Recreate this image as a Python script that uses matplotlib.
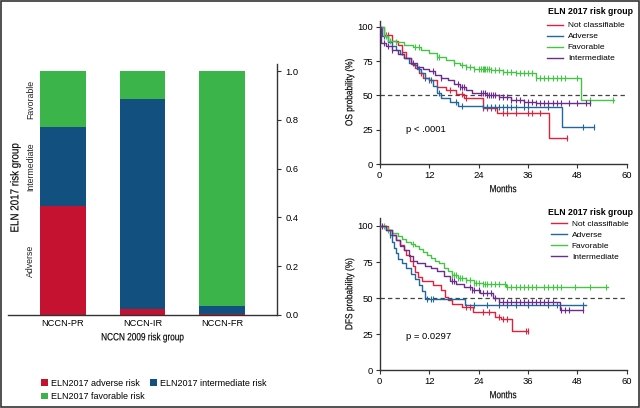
import numpy as np
import matplotlib
matplotlib.use("Agg")
import matplotlib.pyplot as plt
import matplotlib.transforms as mtransforms
import matplotlib.patheffects as pe
from matplotlib.patches import Rectangle

plt.rcParams["font.family"] = ["Liberation Sans", "DejaVu Sans"]

# ---- stacked bar data (fractions) ----
nccn_groups = ["NCCN-PR", "NCCN-IR", "NCCN-FR"]
eln_adverse = [0.445, 0.025, 0.005]
eln_intermediate = [0.325, 0.859, 0.030]
eln_favorable = [0.230, 0.116, 0.965]
bar_labels = ["ELN2017 adverse risk", "ELN2017 intermediate risk",
              "ELN2017 favorable risk"]
bar_colors = ["#c41230", "#12507f", "#3bb54a"]

# ---- Kaplan-Meier data (months, percent) ----
km_labels = ["Not classifiable", "Adverse", "Favorable", "Intermediate"]
km_colors = ["#e2203c", "#1f679e", "#45c545", "#6b2d8c"]

os_red_t = [0, 1, 3, 4.5, 5.5, 6.5, 7.5, 8.5, 9.5, 10.5, 12, 14, 16, 18.5, 20.5, 25, 28.4, 41.2, 45.5]
os_red_s = [100, 94, 90, 87, 82, 77, 73, 70, 66, 63, 61, 56, 54, 51, 48, 40.5, 37, 19, 19]
os_red_c = [1.5, 2, 5.5, 10, 12, 17, 20, 21, 25, 26, 27, 28, 30, 31, 33, 36, 37, 39, 45.4]

os_blue_t = [0, 0.5, 2, 3, 4, 5, 6, 7, 8, 9, 10, 11, 12, 13, 14, 15, 17, 19, 25, 44.2, 52]
os_blue_s = [100, 93, 89, 86, 83, 80, 77, 74, 72, 69, 66, 63, 61, 57, 52, 48, 45, 42.5, 41.5, 27, 27]
os_blue_c = [1, 9.5, 11, 12.5, 14.5, 18.5, 20, 25, 26, 27, 28, 29, 30, 31, 32, 33, 35, 36, 41, 49.5, 52]

os_green_t = [0, 1, 2, 4, 6, 8, 10, 12, 14, 16, 18, 19.5, 21, 23, 27, 30, 33, 38, 49, 57]
os_green_s = [100, 93, 90, 89, 87, 85, 83, 81, 78, 76, 74, 72, 71, 69.5, 68.5, 67, 66.5, 63, 47, 47]
os_green_c = [1.5, 2.5, 4, 8.5, 9.5, 14, 14.5, 18, 20, 21, 22, 23, 24, 24.5, 25, 25.3, 25.6, 26,
              26.5, 27, 28, 29, 30, 31, 32, 33, 34, 35, 36, 37, 38, 39, 40, 41, 42, 43, 44,
              45, 48, 51, 56.7]

os_purple_t = [0, 0.3, 1.5, 3, 4.5, 6, 7.5, 9, 10.5, 12, 13.5, 15, 16.5, 18, 19.5, 21, 22.5, 26, 29, 32, 35, 38, 51]
os_purple_s = [100, 88, 86, 83, 80, 77, 74, 71, 69, 68, 65, 63, 61, 58, 56, 54, 51.5, 50.5, 49, 47, 45.5, 44.5, 44.5]
os_purple_c = [1, 2, 3, 8, 13, 15, 19, 19.5, 20, 20.5, 24.5, 25, 25.5, 26, 26.5, 27, 27.5, 28,
               29, 30, 31, 32, 33, 34, 35, 36, 37, 38, 39, 40, 41, 42, 43, 44, 46, 48, 50, 51]

dfs_red_t = [0, 2, 3, 4, 5, 5.8, 6.5, 7.3, 8, 8.6, 9.2, 10.3, 13, 15, 15.9, 16.7, 17.5, 19.9, 22.7, 28, 29.5, 32.1, 36.1]
dfs_red_s = [100, 97, 94, 90, 87, 83, 80, 76, 72, 68, 64.5, 61.5, 59, 55.5, 51, 48.5, 46, 44, 40.5, 37, 35.5, 26.8, 26.8]
dfs_red_c = [21, 22, 25, 26.5, 29, 30, 31, 35.5, 36]

dfs_blue_t = [0, 1.5, 2.5, 3, 3.5, 4, 4.5, 5.5, 6.5, 7.5, 8.5, 9.5, 10.3, 11, 20.7, 50]
dfs_blue_s = [100, 97, 94, 89, 85, 81, 77, 74, 71, 67, 63, 59, 55, 49, 45.5, 45.5]
dfs_blue_c = [2.5, 11.5, 12.5, 13, 23, 26, 29, 31, 33, 36, 41, 43, 49.5]

dfs_green_t = [0, 1.5, 3, 4.5, 5.5, 6.5, 7.5, 8.5, 9.5, 10.5, 11.5, 12.5, 13.5, 14.5, 15.5, 16.5,
               17.5, 19, 21, 23, 25, 30.8, 55.5]
dfs_green_s = [100, 97, 95, 93, 91, 89, 87.5, 86, 84, 82, 80, 78, 76, 74, 71, 68.5,
               66, 64, 62.5, 60.5, 59.5, 57.5, 57.5]
dfs_green_c = [1, 2, 8, 17.5, 18, 18.5, 19, 19.5, 20, 21, 22, 23, 23.5, 24, 25, 25.5, 26, 27,
               28, 29, 30.5, 31, 32, 33, 34, 35, 36, 37, 38, 40, 41, 42, 43, 44, 47.5, 51, 55]

dfs_purple_t = [0, 1.5, 3, 4, 5, 6, 7, 8, 9, 11, 12.5, 14, 15.5, 17, 18.5, 20.5, 22.3, 24.4, 27.6, 29, 43.8, 49.5]
dfs_purple_s = [100, 97, 94, 90, 86, 83, 79, 76, 74, 72, 70.5, 68.5, 65, 62, 59.5, 58, 55.5, 53.5, 50, 47.5, 41.7, 41.7]
dfs_purple_c = [0.5, 17.5, 18, 22, 22.5, 23, 24, 25, 26, 27, 28, 29, 30, 31, 32, 33, 34, 35,
                36, 37, 38, 39, 40, 41, 42, 44, 45, 46, 49.5]

os_curves = [(os_red_t, os_red_s, os_red_c), (os_blue_t, os_blue_s, os_blue_c),
             (os_green_t, os_green_s, os_green_c), (os_purple_t, os_purple_s, os_purple_c)]
dfs_curves = [(dfs_red_t, dfs_red_s, dfs_red_c), (dfs_blue_t, dfs_blue_s, dfs_blue_c),
              (dfs_green_t, dfs_green_s, dfs_green_c), (dfs_purple_t, dfs_purple_s, dfs_purple_c)]

SPINE = "#333333"


class Condense(pe.AbstractPathEffect):
    """Squeeze text horizontally (no condensed font installed), slightly emboldened."""

    def __init__(self, sx=0.8, stroke=0.1):
        super().__init__()
        self.sx = sx
        self.stroke = stroke

    def draw_path(self, renderer, gc, tpath, affine, rgbFace=None):
        v = tpath.vertices
        cx = (v[:, 0].min() + v[:, 0].max()) / 2 if len(v) else 0
        t = mtransforms.Affine2D().translate(-cx, 0).scale(self.sx, 1).translate(cx, 0) + affine
        gc0 = renderer.new_gc()
        gc0.copy_properties(gc)
        gc0.set_linewidth(self.stroke)
        gc0.set_foreground(rgbFace)
        renderer.draw_path(gc0, tpath, t, rgbFace)
        gc0.restore()


def style_km(ax, ylabel, ytop):
    for side in ["top", "right"]:
        ax.spines[side].set_visible(False)
    for side in ["left", "bottom"]:
        ax.spines[side].set_color(SPINE)
        ax.spines[side].set_linewidth(1.0)
    ax.set_xlim(0, 60)
    ax.set_ylim(0, ytop)
    ax.set_xticks([0, 12, 24, 36, 48, 60])
    ax.set_yticks([0, 25, 50, 75, 100])
    ax.tick_params(labelsize=6.8, length=3, width=0.8, color=SPINE, pad=2)
    xl = ax.set_xlabel("Months", fontsize=7.4, labelpad=3)
    yl = ax.set_ylabel(ylabel, fontsize=7.2, labelpad=2)
    xl.set_path_effects([Condense(0.8)])
    yl.set_path_effects([Condense(0.83)])
    ax.axhline(50, color="#444444", lw=0.9, ls=(0, (3.5, 2.5)), zorder=1)


def draw_km(ax, curves):
    handles = []
    for (t, s, c), col, lab in zip(curves, km_colors, km_labels):
        t = np.asarray(t, float)
        s = np.asarray(s, float)
        (h,) = ax.step(t, s, where="post", color=col, lw=1.0, label=lab, zorder=3)
        c = np.asarray(c, float)
        idx = np.searchsorted(t, c, side="right") - 1
        ax.plot(c, s[idx], ls="none", marker="|", ms=5, mew=0.8, color=col, zorder=3)
        handles.append(h)
    return handles


fig = plt.figure(figsize=(6.4, 4.08), dpi=100)

# ---- stacked bar chart ----
axb = fig.add_axes([0.0125, 0.228, 0.4203, 0.615])
x = np.arange(len(nccn_groups))
bottom = np.zeros(len(nccn_groups))
bars = []
for vals, col, lab in zip([eln_adverse, eln_intermediate, eln_favorable], bar_colors, bar_labels):
    b = axb.bar(x, vals, width=0.57, bottom=bottom, color=col, label=lab, zorder=2)
    bars.append(b)
    bottom += np.asarray(vals)
axb.set_xlim(-0.69, 2.69)
axb.set_ylim(0, 1.029)
axb.spines["top"].set_visible(False)
axb.spines["left"].set_visible(False)
axb.spines["right"].set_color(SPINE)
axb.spines["bottom"].set_color(SPINE)
axb.spines["right"].set_linewidth(1.0)
axb.spines["bottom"].set_linewidth(1.0)
axb.yaxis.tick_right()
axb.set_yticks([0, 0.2, 0.4, 0.6, 0.8, 1.0])
axb.set_yticklabels(["0.0", "0.2", "0.4", "0.6", "0.8", "1.0"])
axb.set_xticks(x)
axb.set_xticklabels(nccn_groups)
axb.tick_params(axis="y", labelsize=6.7, length=3, width=0.8, color=SPINE, pad=3)
axb.tick_params(axis="x", labelsize=6.7, length=0, pad=3)
xlab = axb.set_xlabel("NCCN 2009 risk group", fontsize=7.5, labelpad=3)
xlab.set_path_effects([Condense(0.79)])

# segment names along first bar
trans = mtransforms.blended_transform_factory(axb.transAxes, axb.transData)
seg_names = ["Adverse", "Intermediate", "Favorable"]
lows = [0, eln_adverse[0], eln_adverse[0] + eln_intermediate[0]]
highs = [eln_adverse[0], eln_adverse[0] + eln_intermediate[0], 1.0]
for name, lo, hi in zip(seg_names, lows, highs):
    axb.text(0.085, (lo + hi) / 2, name, transform=trans, rotation=90,
             ha="center", va="center", fontsize=6.3, color="#222222")
eln = fig.text(0.024, 0.54, "ELN 2017 risk group", rotation=90, ha="center", va="center",
               fontsize=8.3)
eln.set_path_effects([Condense(0.85)])

# row order: adverse, intermediate / favorable
order = [0, 2, 1]
fig.legend(handles=[bars[i] for i in order], labels=[bar_labels[i] for i in order],
           loc="upper left", bbox_to_anchor=(0.064, 0.072), bbox_transform=fig.transFigure,
           ncol=2, frameon=False, fontsize=6.5, handlelength=0.8, handleheight=0.8,
           handletextpad=0.3, columnspacing=0.6, labelspacing=0.5, borderaxespad=0,
           borderpad=0)

# ---- OS ----
ax1 = fig.add_axes([0.5933, 0.598, 0.3859, 0.351])
style_km(ax1, "OS probability (%)", 104.4)
h1 = draw_km(ax1, os_curves)
ax1.text(6.5, 25, "p < .0001", fontsize=6.8, va="center", ha="left")

# ---- DFS ----
ax2 = fig.add_axes([0.5933, 0.093, 0.3859, 0.3725])
style_km(ax2, "DFS probability (%)", 105.5)
h2 = draw_km(ax2, dfs_curves)
ax2.text(6.5, 23, "p = 0.0297", fontsize=6.8, va="center", ha="left")

for handles, tx, ty, lx, ly in [(h1, 0.856, 0.9706, 0.8547, 0.947),
                                (h2, 0.857, 0.4787, 0.861, 0.4596)]:
    fig.text(tx, ty, "ELN 2017 risk group", fontsize=6.3, fontweight="bold",
             ha="left", va="center")
    fig.legend(handles=handles, labels=km_labels, loc="upper left",
               bbox_to_anchor=(lx, ly), bbox_transform=fig.transFigure,
               frameon=False, fontsize=6.0, handlelength=1.9, handletextpad=0.6,
               labelspacing=0.38, borderaxespad=0, borderpad=0)

# outer frame
fig.patches.append(Rectangle((0.001, 0.002), 0.997, 0.996, transform=fig.transFigure,
                             fill=False, edgecolor="#333333", lw=1.2))

fig.savefig("out.png", dpi=100)
